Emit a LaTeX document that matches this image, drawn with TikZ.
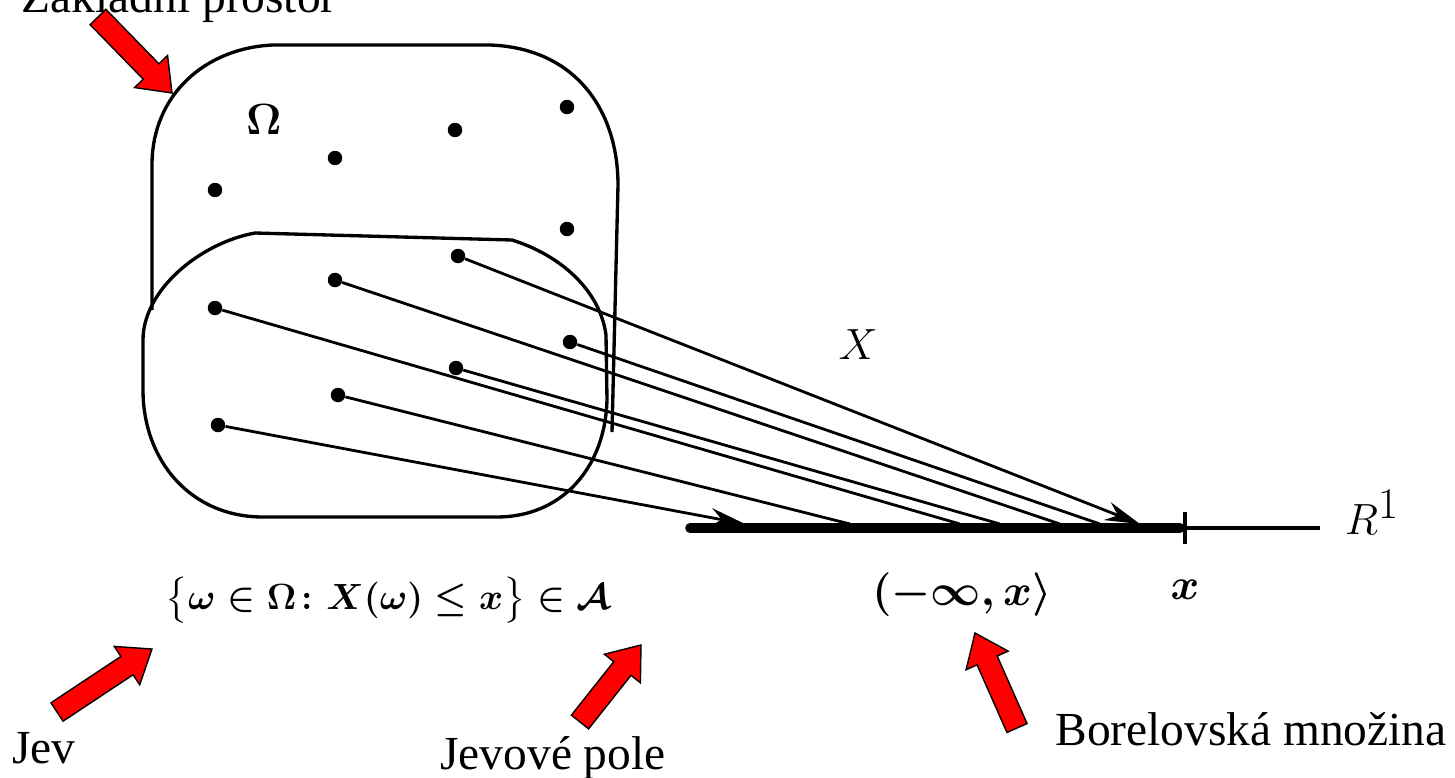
\documentclass[tikz,border=0pt]{standalone}
\usepackage{fontspec}
\setmainfont{Liberation Serif}
\usepackage{amsmath,amssymb}
\usetikzlibrary{calc,arrows.meta,positioning}
\definecolor{arred}{HTML}{FF0000}
\tikzset{
  dot/.style={circle,fill=black,inner sep=0pt,minimum size=0.29cm},
  ln/.style={line width=1.6pt,black},
  bd/.style={line width=1.9pt,black,line join=round},
  lbl/.style={font=\fontsize{27}{32}\selectfont,inner sep=0pt},
  mth/.style={font=\fontsize{24}{28}\selectfont,inner sep=0pt},
  tip/.style={-{Stealth[length=0.7cm,width=0.38cm]}}
}
% red block arrow from tail #1 to tip #2
\newcommand{\redarrow}[2]{%
  \coordinate (hb) at ($(#2)!0.6cm!(#1)$);
  \filldraw[fill=arred,draw=black,line width=0.8pt,line join=miter]
    ($(#1)!0.22cm!90:(#2)$) -- ($(hb)!0.22cm!90:(#2)$) -- ($(hb)!0.46cm!90:(#2)$)
    -- (#2) -- ($(hb)!0.46cm!-90:(#2)$) -- ($(hb)!0.22cm!-90:(#2)$)
    -- ($(#1)!0.22cm!-90:(#2)$) -- cycle;}

\begin{document}
\begin{tikzpicture}[x=0.02cm,y=-0.02cm]
\useasboundingbox (0,0) rectangle (1455,778);
% sample space and event
\draw[bd] (152,310) -- (152,165) .. controls (152,95) and (205,48) .. (273,45) -- (490,45)
  .. controls (575,48) and (618,110) .. (618,185) -- (612,432);
\draw[bd] (255,233) -- (512,240) .. controls (560,255) and (600,290) .. (606,335) -- (607,400)
  .. controls (605,470) and (560,517) .. (497,517) -- (263,517)
  .. controls (190,517) and (143,460) .. (143,390) -- (143,340)
  .. controls (143,290) and (200,243) .. (255,233) -- cycle;
\node[mth,font=\fontsize{32}{36}\selectfont] (om) at (264,120) {$\boldsymbol{\Omega}$};
\foreach \n/\xx/\yy in {o1/215/190,o2/335/158,o3/455/130,o4/567/107,o5/567/229,
  w1/458/256,w2/335/280,w3/215/308,w4/570/342,w5/456/368,w6/338/395,w7/218/425}
  \node[dot] (\n) at (\xx,\yy) {};
% real line
\coordinate (a0) at (690,528);
\coordinate (a1) at (1180,528);
\coordinate (a2) at (1320,528);
\draw[line width=5.5pt,line cap=round] (a0) -- (a1);
\draw[line width=1.9pt] (a1) -- (a2);
\draw[line width=1.9pt] (1185,512) -- (1185,544);
\foreach \n/\xx in {e1/1140,e2/1060,e3/960,e4/1100,e5/1000,e6/850,e7/745}
  \coordinate (\n) at (\xx,524);
\foreach \a/\b in {w2/e2,w3/e3,w4/e4,w5/e5,w6/e6}
  \draw[ln] (\a) -- (\b);
\draw[ln,tip] (w1) -- (e1);
\draw[ln,tip] (w7) -- (e7);
\node[mth,font=\fontsize{32}{36}\selectfont] (xmap) at (858,345) {$X$};
\node[mth,font=\fontsize{38}{42}\selectfont] (r1) at (1372,512) {$R^1$};
\node[mth,font=\fontsize{30}{34}\selectfont] (xx) at (1185,590) {$\boldsymbol{x}$};
\node[mth] (borel) at (962,595) {$\boldsymbol{(-\infty,x\rangle}$};
\node[mth,font=\fontsize{22}{26}\selectfont] (jev) at (388,600) {$\boldsymbol{\bigl\{\omega\in\Omega\colon X(\omega)\le x\bigr\}\in\mathcal{A}}$};
% captions
\node[lbl,anchor=base east] (zp) at (337,12) {Základní prostor};
\node[lbl,anchor=base west] (tjev) at (12,763) {Jev};
\node[lbl,anchor=base west] (tpole) at (440,769) {Jevové pole};
\node[lbl,anchor=base west] (tbor) at (1055,745) {Borelovská množina};
% red arrows
\coordinate (t1) at (98,17);   \coordinate (p1) at (172,93);
\coordinate (t2) at (57,712);  \coordinate (p2) at (152,649);
\coordinate (t3) at (580,722); \coordinate (p3) at (641,645);
\coordinate (t4) at (1017,728);\coordinate (p4) at (975,633);
\redarrow{t1}{p1}
\redarrow{t2}{p2}
\redarrow{t3}{p3}
\redarrow{t4}{p4}
\end{tikzpicture}
\end{document}
